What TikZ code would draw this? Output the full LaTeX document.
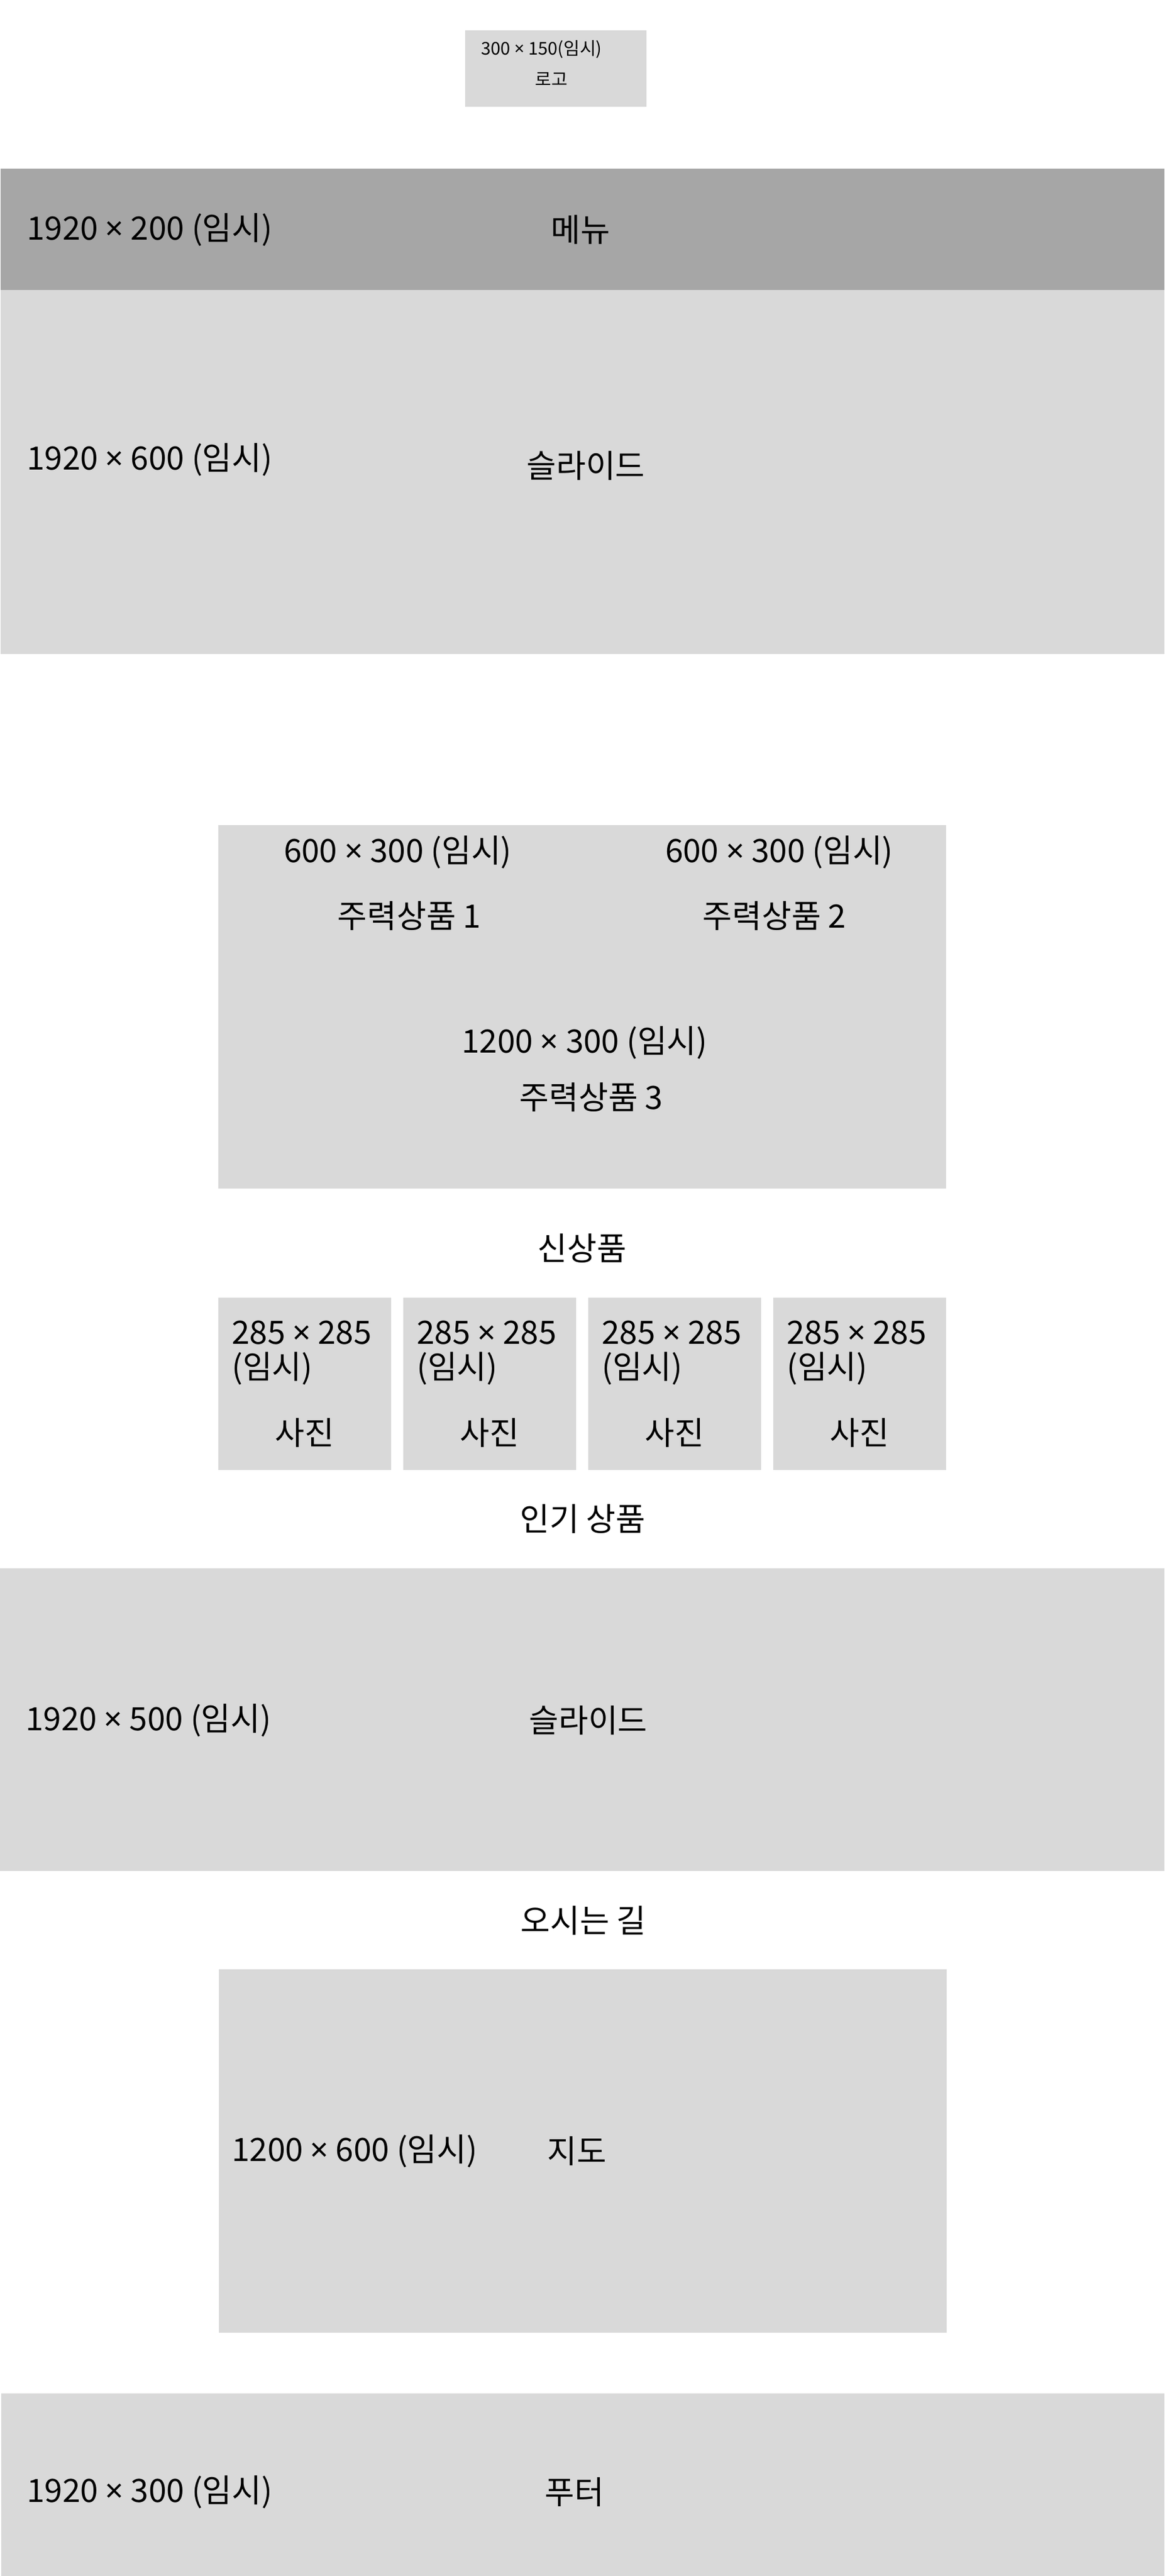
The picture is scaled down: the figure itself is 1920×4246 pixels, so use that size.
\documentclass[tikz,border=0pt]{standalone}
\usepackage{fontspec}
\setmainfont{Noto Sans CJK KR}
\newfontfamily\latinfont{Noto Sans}
\newcommand{\tms}{{\latinfont ×}}
\definecolor{boxgray}{HTML}{D9D9D9}
\definecolor{menugray}{HTML}{A6A6A6}
\tikzset{
  block/.style={fill=boxgray},
  txt/.style={inner sep=0pt, font=\fontsize{53}{64}\selectfont},
  smalltxt/.style={inner sep=0pt, font=\fontsize{29}{36}\selectfont},
}
\begin{document}
\begin{tikzpicture}[x=1pt,y=-1pt]
    \useasboundingbox (0,0) rectangle (1920,4246);
    % logo
    \fill[block] (767,50) rectangle (1066,176);
    \node[smalltxt] (logosize) at (893,81) {300 \tms{} 150(임시)};
    \node[smalltxt] (logo) at (909,130) {로고};
    % menu and slide
    \fill[menugray] (1,278) rectangle (1920,478);
    \node[txt, anchor=west] (menusize) at (44,379) {1920 \tms{} 200 (임시)};
    \node[txt] (menu) at (957,379) {메뉴};
    \fill[block] (1,478) rectangle (1920,1078);
    \node[txt, anchor=west] (slidesize) at (44,758) {1920 \tms{} 600 (임시)};
    \node[txt] (slide) at (966,768) {슬라이드};
    % featured products
    \fill[block] (360,1360) rectangle (1560,1959);
    \node[txt] (mainsize1) at (656,1405) {600 \tms{} 300 (임시)};
    \node[txt] (mainsize2) at (1285,1405) {600 \tms{} 300 (임시)};
    \node[txt] (main1) at (675,1510) {주력상품 1};
    \node[txt] (main2) at (1277,1510) {주력상품 2};
    \node[txt] (mainsize3) at (964,1719) {1200 \tms{} 300 (임시)};
    \node[txt] (main3) at (975,1809) {주력상품 3};
    % new products
    \node[txt] (newtitle) at (960,2058) {신상품};
    \foreach \i/\x in {1/360,2/665,3/970,4/1275} {
        \fill[block] (\x,2139) rectangle +(285,284);
        \node[txt, anchor=west] (photosize\i) at (\x+22,2197) {285 \tms{} 285};
        \node[txt, anchor=west] (phototmp\i) at (\x+22,2256) {(임시)};
        \node[txt] (photo\i) at (\x+142.5,2362) {사진};
      }
    % popular products
    \node[txt] (poptitle) at (961,2504) {인기 상품};
    \fill[block] (0,2585) rectangle (1920,3084);
    \node[txt, anchor=west] (popsize) at (42,2836) {1920 \tms{} 500 (임시)};
    \node[txt] (popslide) at (970,2836) {슬라이드};
    % map
    \node[txt] (maptitle) at (962,3166) {오시는 길};
    \fill[block] (361,3246) rectangle (1561,3845);
    \node[txt, anchor=west] (mapsize) at (382,3546) {1200 \tms{} 600 (임시)};
    \node[txt] (map) at (951,3546) {지도};
    % footer
    \fill[block] (2,3945) rectangle (1920,4246);
    \node[txt, anchor=west] (footsize) at (44,4108) {1920 \tms{} 300 (임시)};
    \node[txt] (foot) at (947,4108) {푸터};
  \end{tikzpicture}
\end{document}
